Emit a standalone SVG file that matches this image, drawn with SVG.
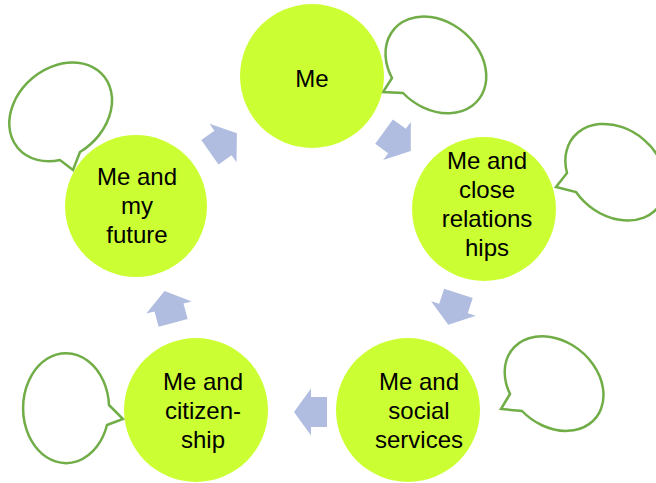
<svg xmlns="http://www.w3.org/2000/svg" width="656" height="483" viewBox="0 0 656 483">
<style>
.node{fill:#CCFF33}
.lbl{font-family:"Liberation Sans",Arial,sans-serif;font-size:24px;fill:#000;text-anchor:middle}
.bub{fill:#fff;stroke:#70AD47;stroke-width:2.5;stroke-linejoin:miter}
.arr{fill:#B0BCE0}
</style>
<defs>
<polygon id="arrow" points="-16,-15 0,-15 0,-23.5 17,0 0,23.5 0,15 -16,15"/>
</defs>
<rect width="656" height="483" fill="#fff"/>
<g id="bubbles">
<path class="bub" d="M 392,78 L 383,92 L 403,93 A 55 43 40 1 0 392,78 Z"/>
<path class="bub" d="M 567,173 L 556,187 L 576,192 A 55 43 40 1 0 567,173 Z"/>
<path class="bub" d="M 80,152 L 73,170 L 60,160 A 56 44 -40 1 1 80,152 Z"/>
<path class="bub" d="M 510,394 L 501,409 L 522,411 A 54 42 40 1 0 510,394 Z"/>
<path class="bub" d="M 109,405 L 123,419 L 107,425 A 43 55 0 1 1 109,405 Z"/>
</g>
<g id="connectors">
<use href="#arrow" class="arr" transform="translate(223,143) rotate(-35)"/>
<use href="#arrow" class="arr" transform="translate(397,141) rotate(36)"/>
<use href="#arrow" class="arr" transform="translate(453.5,308.5) rotate(108)"/>
<use href="#arrow" class="arr" transform="translate(311,412) rotate(180)"/>
<use href="#arrow" class="arr" transform="translate(169,307.5) rotate(-105)"/>
</g>
<g id="me">
<circle class="node" cx="312" cy="76" r="72"/>
<text class="lbl" x="312" y="87">Me</text>
</g>
<g id="close-relationships">
<circle class="node" cx="484" cy="209" r="72"/>
<text class="lbl" x="487" y="169">Me and</text>
<text class="lbl" x="487" y="198">close</text>
<text class="lbl" x="487" y="227">relations</text>
<text class="lbl" x="487" y="256">hips</text>
</g>
<g id="social-services">
<circle class="node" cx="408" cy="410" r="72"/>
<text class="lbl" x="419" y="390">Me and</text>
<text class="lbl" x="419" y="419">social</text>
<text class="lbl" x="419" y="448">services</text>
</g>
<g id="citizenship">
<circle class="node" cx="196" cy="410" r="72"/>
<text class="lbl" x="203" y="390">Me and</text>
<text class="lbl" x="203" y="419">citizen-</text>
<text class="lbl" x="203" y="448">ship</text>
</g>
<g id="my-future">
<circle class="node" cx="136" cy="206" r="71"/>
<text class="lbl" x="137" y="185">Me and</text>
<text class="lbl" x="137" y="214">my</text>
<text class="lbl" x="137" y="243">future</text>
</g>
</svg>
